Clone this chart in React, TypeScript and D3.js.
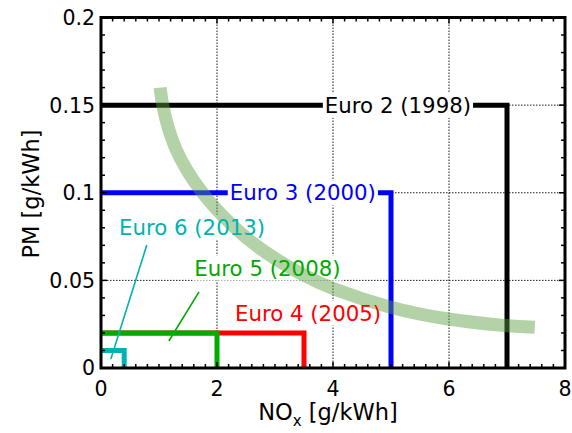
import React, { useEffect, useRef } from 'react'
import * as d3 from 'd3'

// emission standards (NOx vs PM limits)
const standards = ['Euro 2 (1998)', 'Euro 3 (2000)', 'Euro 4 (2005)', 'Euro 5 (2008)', 'Euro 6 (2013)']
const noxLimits = [7, 5, 3.5, 2, 0.4]
const pmLimits = [0.15, 0.1, 0.02, 0.02, 0.01]
const colors = ['#000000', '#0000ff', '#ff0000', '#00aa00', '#00b2b2']

// the soot / NOx trade-off band
const tradeoffNox = [1.02, 1.05, 1.23, 1.71, 2.3, 2.83, 3.52, 3.95, 4.98, 5.99, 6.99, 7.48]
const tradeoffPm = [0.16, 0.151, 0.126, 0.1, 0.0795, 0.0655, 0.0522, 0.0455, 0.034, 0.0274, 0.024, 0.0232]

const xTicks = [0, 2, 4, 6, 8]
const yTicks = [0, 0.05, 0.1, 0.15, 0.2]

const W = 572
const H = 433
const font = 'DejaVu Sans, Verdana, sans-serif'

const App = () => {
    const svgRef = useRef<SVGSVGElement>(null)

    useEffect(() => {
        const svg = d3.select(svgRef.current)
        svg.selectAll('*').remove()

        const x = d3.scaleLinear().domain([0, 8]).range([101, 565])
        const y = d3.scaleLinear().domain([0, 0.2]).range([368, 17.5])

        // label placement in data units, leader lines for the small ones
        const labelAt = [[5.12, 0.15], [3.48, 0.1], [3.57, 0.0314], [2.87, 0.0571], [1.57, 0.0805]]
        const leaders = [null, null, null, [[1.69, 0.0434], [1.17, 0.0154]], [[0.79, 0.0702], [0.17, 0.0051]]]

        // grid
        const grid = svg.append('g').attr('stroke', '#000').attr('stroke-width', 0.9).attr('stroke-dasharray', '1.5,1.5')
        xTicks.slice(1, -1).forEach(t => {
            grid.append('line').attr('x1', x(t)).attr('x2', x(t)).attr('y1', y(0)).attr('y2', y(0.2))
        })
        yTicks.slice(1, -1).forEach(t => {
            grid.append('line').attr('x1', x(0)).attr('x2', x(8)).attr('y1', y(t)).attr('y2', y(t))
        })

        // limit boxes
        standards.forEach((s, i) => {
            svg.append('path')
                .attr('d', d3.line()([[x(0), y(pmLimits[i])], [x(noxLimits[i]), y(pmLimits[i])], [x(noxLimits[i]), y(0)]]))
                .attr('fill', 'none')
                .attr('stroke', colors[i])
                .attr('stroke-width', 5)
        })

        // label text, measured so a white box can sit under it
        const boxes = svg.append('g')
        const curveG = svg.append('g')
        const texts = svg.append('g')
        standards.forEach((s, i) => {
            const t = texts.append('text')
                .attr('x', x(labelAt[i][0]))
                .attr('y', y(labelAt[i][1]))
                .attr('dy', '0.36em')
                .attr('text-anchor', 'middle')
                .attr('font-family', font)
                .attr('font-size', 21.3)
                .attr('fill', colors[i])
                .text(s)
            const bb = (t.node() as SVGTextElement).getBBox()
            boxes.append('rect')
                .attr('x', bb.x - 2).attr('y', bb.y)
                .attr('width', bb.width + 4).attr('height', bb.height)
                .attr('fill', '#fff')
            const ld = leaders[i]
            if (ld) {
                texts.append('line')
                    .attr('x1', x(ld[0][0])).attr('y1', y(ld[0][1]))
                    .attr('x2', x(ld[1][0])).attr('y2', y(ld[1][1]))
                    .attr('stroke', colors[i]).attr('stroke-width', 1.6)
            }
        })

        // trade-off band
        const band = d3.line<number>()
            .x((d, i) => x(tradeoffNox[i]))
            .y(d => y(d))
            .curve(d3.curveBasis)
        curveG.append('path')
            .attr('d', band(tradeoffPm))
            .attr('fill', 'none')
            .attr('stroke', '#5a9c40')
            .attr('stroke-opacity', 0.46)
            .attr('stroke-width', 13)

        // frame + ticks
        const frame = svg.append('g').attr('stroke', '#000')
        d3.range(0, 8.001, 0.2).forEach(t => {
            const major = Math.abs(t - Math.round(t / 2) * 2) < 1e-6
            const len = major ? 6 : 4
            frame.append('line').attr('x1', x(t)).attr('x2', x(t)).attr('y1', y(0)).attr('y2', y(0) - len).attr('stroke-width', 1.5)
            frame.append('line').attr('x1', x(t)).attr('x2', x(t)).attr('y1', y(0.2)).attr('y2', y(0.2) + len).attr('stroke-width', 1.5)
        })
        d3.range(0, 0.2001, 0.01).forEach(t => {
            const major = Math.abs(t / 0.05 - Math.round(t / 0.05)) < 1e-6
            const len = major ? 6 : 4
            frame.append('line').attr('x1', x(0)).attr('x2', x(0) + len).attr('y1', y(t)).attr('y2', y(t)).attr('stroke-width', 1.5)
            frame.append('line').attr('x1', x(8)).attr('x2', x(8) - len).attr('y1', y(t)).attr('y2', y(t)).attr('stroke-width', 1.5)
        })
        frame.append('rect')
            .attr('x', x(0)).attr('y', y(0.2))
            .attr('width', x(8) - x(0)).attr('height', y(0) - y(0.2))
            .attr('fill', 'none').attr('stroke-width', 3)

        // tick labels
        const lab = svg.append('g').attr('font-family', font).attr('font-size', 20.5).attr('fill', '#000')
        xTicks.forEach(t => {
            lab.append('text').attr('x', x(t)).attr('y', 396).attr('text-anchor', 'middle').text(String(t))
        })
        yTicks.forEach(t => {
            lab.append('text').attr('x', 95).attr('y', y(t)).attr('dy', '0.36em').attr('text-anchor', 'end').text(String(t))
        })

        // axis titles
        const xt = svg.append('text')
            .attr('x', 328).attr('y', 420)
            .attr('text-anchor', 'middle')
            .attr('font-family', font).attr('font-size', 22.5)
        xt.append('tspan').text('NO')
        xt.append('tspan').attr('font-size', 15).attr('dy', 6).text('x')
        xt.append('tspan').attr('dy', -6).text(' [g/kWh]')

        svg.append('text')
            .attr('transform', 'translate(39,194) rotate(-90)')
            .attr('text-anchor', 'middle')
            .attr('font-family', font).attr('font-size', 22.5)
            .text('PM [g/kWh]')
    }, [])

    return (
        <svg ref={svgRef} width={W} height={H} style={{ position: 'absolute', left: 0, top: 0, background: '#fff' }} />
    )
}

export default App
